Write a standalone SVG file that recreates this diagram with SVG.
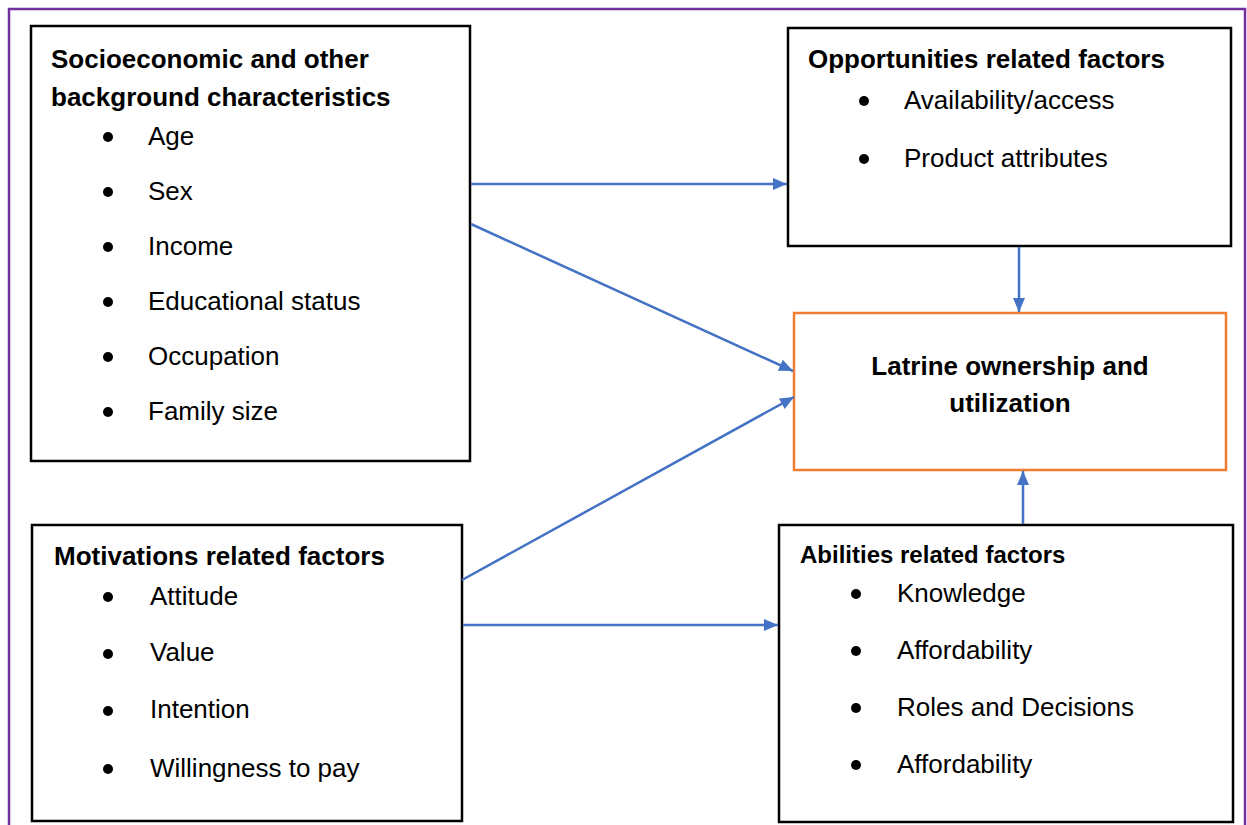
<svg xmlns="http://www.w3.org/2000/svg" width="1247" height="825" viewBox="0 0 1247 825">
<defs>
<style>
.box{fill:#fff;stroke:#000;stroke-width:2.5}
.main{fill:#fff;stroke:#ED7D31;stroke-width:2.5}
.t{font-family:"Liberation Sans",Arial,sans-serif;font-size:26px;fill:#000}
.b{font-weight:bold}
.s{font-size:24px}
.dot{fill:#000}
.conn{stroke:#4472C4;stroke-width:2.5;fill:none;marker-end:url(#ah)}
</style>
<marker id="ah" viewBox="0 0 14 12" refX="14" refY="6" markerWidth="14" markerHeight="12" markerUnits="userSpaceOnUse" orient="auto">
<path d="M0,0 L14,6 L0,12 z" fill="#4472C4"/>
</marker>
</defs>
<rect x="0" y="0" width="1247" height="825" fill="#fff"/>
<rect x="9" y="9" width="1236" height="830" fill="none" stroke="#7030A0" stroke-width="2.5"/>

<g id="socio">
<rect class="box" x="31" y="26" width="439" height="435"/>
<text class="t b" x="51" y="68">Socioeconomic and other</text>
<text class="t b" x="51" y="106">background characteristics</text>
<circle class="dot" cx="108" cy="137" r="5"/><text class="t" x="148" y="145">Age</text>
<circle class="dot" cx="108" cy="192" r="5"/><text class="t" x="148" y="200">Sex</text>
<circle class="dot" cx="108" cy="247" r="5"/><text class="t" x="148" y="255">Income</text>
<circle class="dot" cx="108" cy="302" r="5"/><text class="t" x="148" y="310">Educational status</text>
<circle class="dot" cx="108" cy="357" r="5"/><text class="t" x="148" y="365">Occupation</text>
<circle class="dot" cx="108" cy="412" r="5"/><text class="t" x="148" y="420">Family size</text>
</g>

<g id="opportunities">
<rect class="box" x="788" y="28" width="443" height="218"/>
<text class="t b" x="808" y="68">Opportunities related factors</text>
<circle class="dot" cx="864" cy="101" r="5"/><text class="t" x="904" y="109">Availability/access</text>
<circle class="dot" cx="864" cy="159" r="5"/><text class="t" x="904" y="167">Product attributes</text>
</g>

<g id="latrine">
<rect class="main" x="794" y="313" width="432" height="157"/>
<text class="t b" x="1010" y="375" text-anchor="middle">Latrine ownership and</text>
<text class="t b" x="1010" y="412" text-anchor="middle">utilization</text>
</g>

<g id="motivations">
<rect class="box" x="32" y="525" width="430" height="296"/>
<text class="t b" x="54" y="565">Motivations related factors</text>
<circle class="dot" cx="108" cy="597" r="5"/><text class="t" x="150" y="605">Attitude</text>
<circle class="dot" cx="108" cy="654" r="5"/><text class="t" x="150" y="661">Value</text>
<circle class="dot" cx="108" cy="711" r="5"/><text class="t" x="150" y="718">Intention</text>
<circle class="dot" cx="108" cy="769" r="5"/><text class="t" x="150" y="777">Willingness to pay</text>
</g>

<g id="abilities">
<rect class="box" x="779" y="525" width="454" height="297"/>
<text class="t b s" x="800" y="563">Abilities related factors</text>
<circle class="dot" cx="856" cy="594" r="5"/><text class="t" x="897" y="602">Knowledge</text>
<circle class="dot" cx="856" cy="651" r="5"/><text class="t" x="897" y="659">Affordability</text>
<circle class="dot" cx="856" cy="708" r="5"/><text class="t" x="897" y="716">Roles and Decisions</text>
<circle class="dot" cx="856" cy="765" r="5"/><text class="t" x="897" y="773">Affordability</text>
</g>

<g id="connectors">
<line class="conn" x1="471" y1="184" x2="787" y2="184"/>
<line class="conn" x1="471" y1="224" x2="793" y2="371"/>
<line class="conn" x1="462" y1="580" x2="794" y2="397"/>
<line class="conn" x1="463" y1="625" x2="778" y2="625"/>
<line class="conn" x1="1019" y1="247" x2="1019" y2="312"/>
<line class="conn" x1="1023" y1="524" x2="1023" y2="471"/>
</g>
</svg>
